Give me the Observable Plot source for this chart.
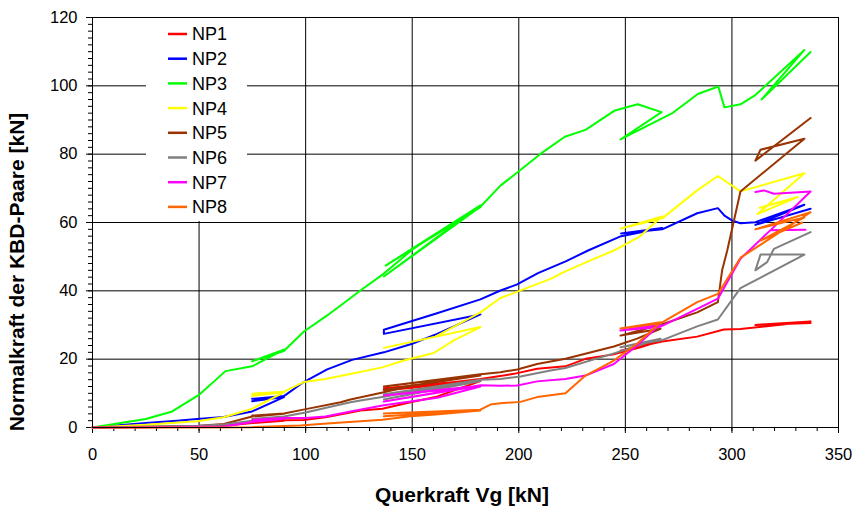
<!DOCTYPE html>
<html>
<head>
<meta charset="utf-8">
<script src="https://cdn.jsdelivr.net/npm/d3@7"></script>
<script src="https://cdn.jsdelivr.net/npm/@observablehq/plot@0.6"></script>
<style>
  html, body { margin: 0; padding: 0; background: #fff; }
  #chart { width: 855px; height: 508px; }
</style>
</head>
<body>
<div id="chart"></div>
<script>
// Normal force of the KBD pairs versus shear force Vg, measuring points NP1–NP8
// Each series: [Vg (kN), N (kN)] in recording order (load cycles loop back).
const np1 = [[0,0],[25,0.1],[50,0.3],[62,0.5],[75,1.3],[89.8,2.0],[75,1.7],[89.8,2.1],[99,2.2],[109.3,3.0],[121,4.4],[125.7,5.0],[136,5.5],[149.2,7.4],[160.9,8.9],[182,13.6],[136.7,10.8],[182,14.0],[136.7,11.5],[160,12.6],[182,14.2],[197.7,15.7],[208.6,17.2],[221.9,17.9],[231.3,20.1],[244.6,21.4],[257.1,23.5],[267.3,25.5],[247.7,22.5],[267.3,25.2],[283.7,26.6],[296.2,28.7],[304,28.8],[336.9,31.0],[311,30.0],[336.9,30.6]];
const np2 = [[0,0],[25,1.3],[39.7,2.0],[49.1,2.5],[61.6,3.1],[74.9,4.7],[89.8,8.9],[74.9,7.7],[89.8,9.1],[74.9,8.4],[89.8,9.2],[99.1,13.3],[110.1,17.0],[121.8,19.8],[136.7,22.0],[150,24.5],[161.7,27.4],[182,33.1],[136.7,27.4],[136.7,28.6],[160.9,33.3],[182,37.5],[191.4,40.1],[199,41.8],[209,45.2],[222,48.6],[232.5,51.8],[248,56.0],[267.3,58.4],[248,56.8],[267.3,58.0],[283.7,62.7],[293.4,64.2],[296.5,62.0],[300,60.6],[304,59.8],[311,60.1],[334,65.2],[311,59.3],[336.9,64.0]];
const np3 = [[0,0],[25,2.5],[37.4,4.7],[50.3,9.7],[62.4,16.5],[74.9,17.9],[89.8,22.8],[74.9,19.4],[89.8,22.4],[99.2,28.1],[110.1,32.8],[116.4,35.7],[125.7,40.1],[137,45.2],[150.3,52.2],[165,58.3],[182,64.5],[137.5,47.4],[182,65.0],[136.7,44.2],[182,64.6],[191.4,70.8],[200,75],[210,80],[221.6,85.1],[231.3,87.1],[245.1,92.8],[255.8,94.6],[267,92.3],[247.7,84.3],[272.3,92.1],[284,97.6],[293.6,99.8],[296.5,93.7],[304,94.6],[311,97.3],[334,110.5],[313.9,96.0],[336.9,109.9]];
const np4 = [[0,0],[24.9,0.8],[49.1,1.8],[61.6,3.0],[74.9,5.5],[89.8,10.3],[74.9,9.2],[89.8,10.3],[74.9,9.9],[89.8,10.5],[99.1,13.3],[109.3,14.2],[122.6,15.9],[135.9,17.6],[146.1,19.6],[160.1,21.8],[169.5,25.5],[182,29.4],[136.7,23.3],[160.9,26.6],[182,33.7],[191.4,37.9],[200,39.9],[214.9,43.5],[221.1,45.5],[233.6,48.9],[244.6,51.8],[256.3,55.7],[267.3,61.8],[247.7,58.2],[267.3,61.2],[283.7,69.4],[293.4,73.6],[304,69.1],[334,74.4],[312,62.5],[331,67.5],[313,64.3],[330,67.2]];
const np5 = [[0,0],[25,0.2],[50,0.5],[61.6,1.0],[74.9,3.2],[89.8,4.0],[74.9,3.5],[89.8,4.1],[99.5,5.3],[116.4,7.4],[121,8.2],[136.7,10.3],[150,12.3],[182,15.2],[136.7,11.0],[182,15.4],[136.7,12.0],[182,15.6],[191.4,16.2],[199.3,17.0],[208.6,18.6],[221.9,20.1],[244.6,23.7],[255.5,26.0],[266.5,28.9],[247.7,26.9],[267.3,30.2],[283.7,33.7],[293.4,36.7],[295.4,46.0],[297.8,51.8],[304,69.1],[334,84.5],[313.4,81.3],[311,78.1],[336.9,90.6]];
const np6 = [[0,0],[25,0.2],[50,0.5],[61.6,0.9],[74.9,2.0],[89.8,3.0],[74.9,2.5],[89.8,3.2],[99.9,4.4],[121,7.4],[125.7,7.9],[136.7,9.0],[150,10.5],[182,13.6],[136.7,8.2],[182,13.8],[136.7,9.7],[182,14.0],[191.4,14.2],[200.8,14.9],[214.9,16.7],[221.9,17.4],[244.6,21.7],[266.5,26.0],[247.7,23.5],[267,25.5],[283.7,29.6],[293.4,31.6],[304,40.8],[334,50.6],[313.4,50.6],[311,46.0],[316.5,48.4],[319.7,52.3],[336.9,57.2]];
const np7 = [[0,0],[25,0.1],[50,0.2],[61.6,0.3],[74.9,1.6],[89.8,2.5],[74.9,2.2],[89.8,2.8],[99.9,2.8],[109.3,3.2],[121,4.7],[136.7,6.5],[161.7,8.7],[182,12.0],[136.7,9.4],[182,12.2],[136.7,7.6],[182,12.4],[191.4,12.2],[199.3,12.3],[208.6,13.5],[221.9,14.2],[231.3,15.2],[244.6,18.6],[255.5,24.0],[266.5,30.3],[247.7,28.4],[266.5,29.5],[283.7,34.7],[293.4,37.7],[304,49.4],[318,57.7],[334.5,57.9],[318,57.7],[336.9,69.1],[319.7,68.4],[315,69.4],[311,68.9]];
const np8 = [[0,0],[50,0],[74.9,0.1],[97.6,0.6],[110,1.2],[125.7,1.8],[136,2.3],[149.2,3.3],[160.9,3.8],[182,5.0],[136.7,3.3],[182,5.1],[136.7,4.1],[182,5.2],[186.7,6.7],[191.4,7.1],[200.8,7.5],[208.6,8.9],[221.9,10.0],[231.3,15.2],[244.6,19.6],[255.5,24.5],[266.5,30.8],[247.7,29.0],[266.5,30.5],[283.7,36.7],[293.4,39.1],[304,49.7],[336.9,63.0],[311,58.0],[334,61.5],[313.4,54.7],[333,60.0]];

const seriesNames  = ["NP1", "NP2", "NP3", "NP4", "NP5", "NP6", "NP7", "NP8"];
const seriesColors = ["#ff0000", "#0000ff", "#00ff00", "#ffff00", "#993300", "#808080", "#ff00ff", "#ff6600"];
const seriesData   = [np1, np2, np3, np4, np5, np6, np7, np8];

const xMajorTicks = [0, 50, 100, 150, 200, 250, 300, 350];
const xMinorTicks = d3.range(0, 351, 10);
const yMajorTicks = [0, 20, 40, 60, 80, 100, 120];
const yMinorTicks = d3.range(0, 121, 2);

const xTitle = "Querkraft Vg [kN]";
const yTitle = "Normalkraft der KBD-Paare [kN]";

// long table: one row per recorded point, kept in recording order
const rows = seriesData.flatMap((pts, i) =>
  pts.map(([x, y], k) => ({series: seriesNames[i], k, x, y}))
);

const font = "'Liberation Sans', Arial, Helvetica, sans-serif";
const gridStyle = {stroke: "#000", strokeOpacity: 1, strokeWidth: 1};

const chart = Plot.plot({
  width: 855,
  height: 508,
  marginLeft: 92,
  marginRight: 17,
  marginTop: 17,
  marginBottom: 81,
  x: {domain: [0, 350]},
  y: {domain: [0, 120]},
  color: {domain: seriesNames, range: seriesColors},
  style: {fontFamily: font, fontSize: "16.5px", color: "#000", background: "#fff", overflow: "visible"},
  marks: [
    Plot.gridX(xMajorTicks.slice(1, -1), gridStyle),
    Plot.gridY(yMajorTicks.slice(1, -1), gridStyle),
    Plot.axisX(xMinorTicks, {tickSize: 4, text: null, label: null, stroke: "#000"}),
    Plot.axisX(xMajorTicks, {tickSize: 6, tickPadding: 15, label: null, stroke: "#000", fill: "#000"}),
    Plot.axisY(yMinorTicks, {tickSize: 4, text: null, label: null, stroke: "#000"}),
    Plot.axisY(yMajorTicks, {tickSize: 6, tickPadding: 9, label: null, stroke: "#000", fill: "#000"}),
    Plot.line(rows, {x: "x", y: "y", z: "series", stroke: "series", strokeWidth: 2,
                     strokeLinejoin: "round", strokeLinecap: "round"}),
    Plot.frame({stroke: "#000", strokeWidth: 1})
  ]
});

const svg = d3.select(chart);

// legend box in the upper left of the plot area
const legend = svg.append("g").attr("class", "legend").attr("text-anchor", "start");
legend.append("rect")
  .attr("x", 146).attr("y", 18).attr("width", 101).attr("height", 203)
  .attr("fill", "#fff");
seriesNames.forEach((name, i) => {
  const cy = 34 + i * 24.7;
  legend.append("line")
    .attr("x1", 168).attr("x2", 187).attr("y1", cy).attr("y2", cy)
    .attr("stroke", seriesColors[i]).attr("stroke-width", 2.5);
  legend.append("text")
    .attr("x", 192).attr("y", cy + 6.4)
    .attr("text-anchor", "start")
    .attr("font-family", font).attr("font-size", 18).attr("fill", "#000")
    .text(name);
});

// axis titles
svg.append("text")
  .attr("x", 462).attr("y", 502)
  .attr("text-anchor", "middle")
  .attr("font-family", font).attr("font-size", 21).attr("font-weight", "bold").attr("fill", "#000")
  .text(xTitle);
svg.append("text")
  .attr("transform", "translate(24,272) rotate(-90)")
  .attr("text-anchor", "middle")
  .attr("font-family", font).attr("font-size", 21).attr("font-weight", "bold").attr("fill", "#000")
  .text(yTitle);

document.getElementById("chart").appendChild(chart);
</script>
</body>
</html>
